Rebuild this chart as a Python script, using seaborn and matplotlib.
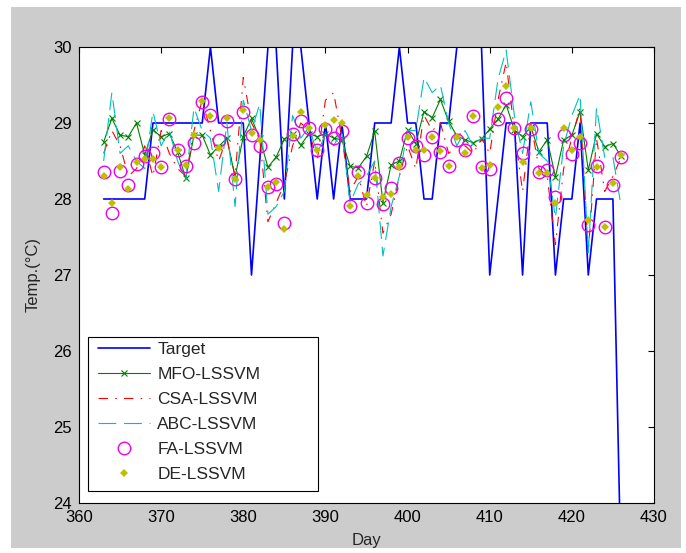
import numpy as np
import seaborn as sns
import matplotlib.pyplot as plt
from matplotlib.patches import Rectangle

# days of the test period
days = np.arange(363, 427)

target = [28, 28, 28, 28, 28, 28,
          29, 29, 29, 29, 29, 29, 29,
          30, 29, 29, 29, 29, 27, 28.5,
          30, 30, 28, 30, 30, 29, 28, 29, 28, 29,
          28, 28, 28, 29, 29, 29, 30, 29, 29, 28, 28, 29, 29,
          30, 30, 30, 30, 27, 28, 29, 29, 27, 29, 29, 29, 27,
          28, 28, 29, 27, 28, 28, 28, 23]

mfo = [28.75, 29.06, 28.84, 28.82, 29.00, 28.58, 28.91, 28.82, 28.86, 28.62,
       28.27, 28.84, 28.84, 28.58, 28.69, 28.80, 28.29, 28.82, 29.06, 28.80,
       28.42, 28.55, 28.79, 28.86, 28.71, 28.86, 28.82, 28.86, 28.80, 28.78,
       28.43, 28.41, 28.56, 28.89, 27.95, 28.45, 28.50, 28.91, 28.73, 29.15,
       29.07, 29.31, 29.02, 28.83, 28.78, 28.74, 28.79, 28.92, 29.05, 29.24,
       28.91, 28.82, 28.95, 28.62, 28.78, 28.29, 28.78, 28.84, 29.15, 28.38,
       28.86, 28.69, 28.73, 28.56]

csa = [28.6, 28.9, 28.7, 28.3, 28.4, 28.7, 28.3, 28.9, 28.6, 28.4,
       28.3, 28.9, 29.3, 28.9, 28.5, 28.8, 28.3, 29.6, 29.0, 28.8,
       27.7, 27.95, 28.2, 28.7, 29.0, 28.9, 28.5, 29.3, 29.4, 28.8,
       28.1, 28.3, 27.9, 28.5, 27.55, 27.8, 28.3, 28.7, 28.4, 29.1,
       28.9, 29.0, 28.6, 28.7, 28.7, 28.6, 28.8, 28.6, 29.3, 29.8,
       28.9, 28.1, 29.0, 28.4, 28.3, 27.4, 28.4, 28.8, 29.2, 27.3,
       28.8, 28.1, 28.3, 28.55]

abc = [28.5, 29.4, 28.6, 28.7, 28.5, 28.4, 29.15, 28.7, 28.9, 28.5,
       28.25, 29.2, 28.9, 28.8, 28.1, 29.0, 27.9, 29.3, 28.9, 29.25,
       27.8, 27.9, 28.1, 29.1, 28.8, 28.95, 28.6, 28.85, 28.7, 28.9,
       27.95, 28.2, 28.3, 28.5, 27.25, 27.9, 28.3, 28.9, 28.9, 29.6,
       29.4, 29.5, 29.0, 28.7, 28.9, 28.7, 28.8, 28.8, 29.57, 29.96,
       29.1, 28.6, 29.28, 28.6, 28.5, 27.75, 28.7, 29.1, 29.37, 27.29,
       29.2, 28.55, 28.55, 27.9]

fa = [28.36, 27.82, 28.37, 28.18, 28.46, 28.56, 28.60, 28.42, 29.05, 28.64,
      28.44, 28.74, 29.28, 29.11, 28.78, 29.02, 28.26, 29.15, 28.84, 28.70,
      28.16, 28.20, 27.68, 28.86, 29.02, 28.94, 28.64, 28.92, 28.80, 28.89,
      27.91, 28.36, 27.95, 28.27, 27.94, 28.14, 28.48, 28.80, 28.70, 28.58,
      28.81, 28.62, 28.44, 28.77, 28.65, 29.09, 28.42, 28.39, 29.05, 29.33,
      28.94, 28.60, 28.92, 28.36, 28.38, 28.02, 28.84, 28.59, 28.74, 27.66,
      28.43, 27.63, 28.18, 28.55]

de = [28.30, 27.95, 28.42, 28.13, 28.49, 28.53, 28.53, 28.42, 29.06, 28.64,
      28.45, 28.84, 29.29, 29.09, 28.67, 29.06, 28.26, 29.17, 28.87, 28.78,
      28.16, 28.23, 27.61, 28.83, 29.15, 28.94, 28.64, 28.97, 29.04, 29.00,
      27.91, 28.30, 28.05, 28.27, 28.03, 28.07, 28.42, 28.82, 28.64, 28.65,
      28.82, 28.63, 28.44, 28.82, 28.60, 29.09, 28.41, 28.45, 29.21, 29.49,
      28.94, 28.49, 28.94, 28.34, 28.34, 27.95, 28.94, 28.64, 28.81, 27.72,
      28.42, 27.63, 28.21, 28.58]

sns.set_style('white')
plt.rcParams['font.family'] = ['Liberation Sans', 'DejaVu Sans']

fig = plt.figure(figsize=(6.86, 5.53), dpi=100, facecolor='white')
# grey MATLAB-like figure panel behind the axes
fig.patches.append(Rectangle((11 / 686, 5 / 553), 670 / 686, 541 / 553,
                             transform=fig.transFigure, facecolor='#cccccc',
                             edgecolor='none', zorder=-10))
ax = fig.add_axes([79 / 686, 50 / 553, 575 / 686, 456 / 553])
ax.set_facecolor('white')

sns.lineplot(x=days, y=target, ax=ax, color='#0000ff', linewidth=1.2, label='Target')
sns.lineplot(x=days, y=mfo, ax=ax, color='#008000', linewidth=0.8, marker='x',
             markersize=4.5, markeredgewidth=0.8, markeredgecolor='#008000',
             label='MFO-LSSVM')
sns.lineplot(x=days, y=csa, ax=ax, color='#ff0000', linewidth=0.8,
             linestyle=(0, (8.5, 6.5, 1.4, 6.5)), label='CSA-LSSVM')
sns.lineplot(x=days, y=abc, ax=ax, color='#00bfbf', linewidth=0.8,
             linestyle=(0, (16, 7)), label='ABC-LSSVM')
sns.lineplot(x=days, y=fa, ax=ax, color='#ff00ff', linestyle='none', marker='o',
             markersize=9, markerfacecolor='none', markeredgecolor='#ee00ee',
             markeredgewidth=1.0, label='FA-LSSVM')
sns.lineplot(x=days, y=de, ax=ax, color='#bfbf00', linestyle='none', marker='D',
             markersize=4.2, markeredgewidth=0, markeredgecolor='#bfbf00',
             label='DE-LSSVM')

ax.set_xlim(360, 430)
ax.set_ylim(24, 30)
ax.set_xticks(range(360, 431, 10))
ax.set_yticks(range(24, 31))
ax.tick_params(direction='in', length=4, width=0.8, top=True, right=True,
               labelsize=12, colors='black', pad=5)
for side in ax.spines.values():
    side.set_color('black')
    side.set_linewidth(0.8)
ax.set_xlabel('Day', fontsize=12, labelpad=6)
ax.set_ylabel('Temp.(°C)', fontsize=12, labelpad=9)

# legend box drawn separately (MATLAB leaves room right of the labels)
ax.add_patch(Rectangle((0.0157, 0.0263), 0.4, 0.3377, transform=ax.transAxes,
                       facecolor='white', edgecolor='black', linewidth=0.8,
                       zorder=4))
leg = ax.legend(loc='upper left', bbox_to_anchor=(0.0243, 0.364), borderaxespad=0,
                fontsize=12.5, frameon=False, handlelength=3.0,
                handletextpad=0.4, labelspacing=0.56, borderpad=0.3)
leg.set_zorder(5)

fig.savefig('out.png', dpi=100, facecolor=fig.get_facecolor())
